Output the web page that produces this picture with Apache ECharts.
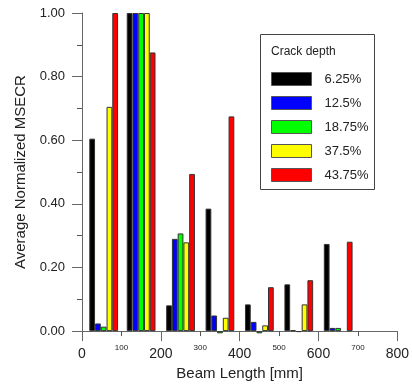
<!DOCTYPE html>
<html>
<head>
<meta charset="utf-8">
<script src="https://cdn.jsdelivr.net/npm/echarts@6/dist/echarts.min.js"></script>
<style>
  html, body { margin: 0; padding: 0; background: #fff; }
  #chart { width: 412px; height: 386px; }
</style>
</head>
<body>
<div id="chart"></div>
<script>
// beam positions [mm] and averaged normalized MSECR per crack depth
var beamLength = [55, 150, 250, 350, 450, 550, 650];
var depthNames = ["6.25%", "12.5%", "18.75%", "37.5%", "43.75%"];
var depthColors = ["#000000", "#0000ff", "#00ff00", "#ffff00", "#ff0000"];
var depth625 = [0.605, 1.0, 0.081, 0.385, 0.084, 0.147, 0.274];
var depth125 = [0.024, 1.0, 0.290, 0.049, 0.029, 0.003, 0.010];
var depth1875 = [0.014, 1.0, 0.307, -0.007, -0.007, -0.003, 0.010];
var depth375 = [0.705, 1.0, 0.279, 0.042, 0.018, 0.084, null];
var depth4375 = [1.0, 0.876, 0.494, 0.675, 0.138, 0.160, 0.281];
var minorLabels = [100, 300, 500, 700];

var font = "Liberation Sans, Arial, sans-serif";
var axisColor = "#666";
var textColor = "#222";

var chart = echarts.init(document.getElementById("chart"));

function makeSeries(name, color, values) {
  return {
    name: name,
    type: "bar",
    xAxisIndex: 0,
    barWidth: 5.75,
    barGap: "0%",
    clip: false,
    itemStyle: {
      color: color,
      borderColor: "#333",
      borderWidth: 1
    },
    data: values.map(function (v, i) {
      return [beamLength[i], v];
    })
  };
}

var allValues = [depth625, depth125, depth1875, depth375, depth4375];

var option = {
  animation: false,
  grid: {
    left: 82,
    right: 10,
    top: 13,
    bottom: 52
  },
  legend: {
    orient: "vertical",
    left: 271,
    top: 72,
    icon: "rect",
    itemWidth: 40,
    itemHeight: 13,
    itemGap: 10,
    padding: 0,
    data: depthNames,
    itemStyle: { borderColor: "#555", borderWidth: 1 },
    textStyle: {
      fontFamily: font,
      fontSize: 13,
      color: textColor,
      lineHeight: 13,
      padding: [0, 0, 0, 8]
    }
  },
  graphic: [
    {
      type: "rect",
      shape: { x: 260.5, y: 34.5, width: 114, height: 155 },
      style: { fill: "#fff", stroke: "#444", lineWidth: 1 },
      z: -1
    },
    {
      type: "text",
      style: {
        x: 271,
        y: 52,
        text: "Crack depth",
        fontFamily: font,
        fontSize: 12,
        fill: textColor,
        verticalAlign: "middle"
      }
    }
  ],
  xAxis: [
    {
      type: "value",
      position: "bottom",
      min: 0,
      max: 800,
      interval: 200,
      name: "Beam Length [mm]",
      nameLocation: "middle",
      nameGap: 31,
      nameTextStyle: { fontFamily: font, fontSize: 15, color: textColor },
      splitLine: { show: false },
      axisLine: { lineStyle: { color: axisColor, width: 1 } },
      axisTick: { show: true, length: 10, inside: false, lineStyle: { color: axisColor } },
      minorTick: { show: true, splitNumber: 2, length: 5, lineStyle: { color: "#555", width: 1 } },
      axisLabel: { margin: 16, fontFamily: font, fontSize: 14, color: textColor }
    },
    {
      // small labels at the odd hundreds
      type: "value",
      position: "bottom",
      min: 0,
      max: 800,
      interval: 100,
      splitLine: { show: false },
      axisLine: { show: false },
      axisTick: { show: false },
      axisLabel: {
        margin: 13,
        fontFamily: font,
        fontSize: 8,
        color: textColor,
        formatter: function (v) {
          return minorLabels.indexOf(v) >= 0 ? String(v) : "";
        }
      }
    }
  ],
  yAxis: {
    type: "value",
    min: 0,
    max: 1,
    interval: 0.2,
    name: "Average Normalized MSECR",
    nameLocation: "middle",
    nameRotate: 90,
    nameGap: 54,
    nameTextStyle: { fontFamily: font, fontSize: 15, color: textColor },
    splitLine: { show: false },
    axisLine: { show: true, lineStyle: { color: axisColor, width: 1 } },
    axisTick: { show: true, length: 10, lineStyle: { color: axisColor } },
    minorTick: { show: true, splitNumber: 2, length: 5, lineStyle: { color: "#555", width: 1 } },
    axisLabel: {
      margin: 17,
      fontFamily: font,
      fontSize: 13,
      color: textColor,
      formatter: function (v) { return v.toFixed(2); }
    }
  },
  series: depthNames.map(function (n, k) {
    return makeSeries(n, depthColors[k], allValues[k]);
  })
};

chart.setOption(option);
</script>
</body>
</html>
